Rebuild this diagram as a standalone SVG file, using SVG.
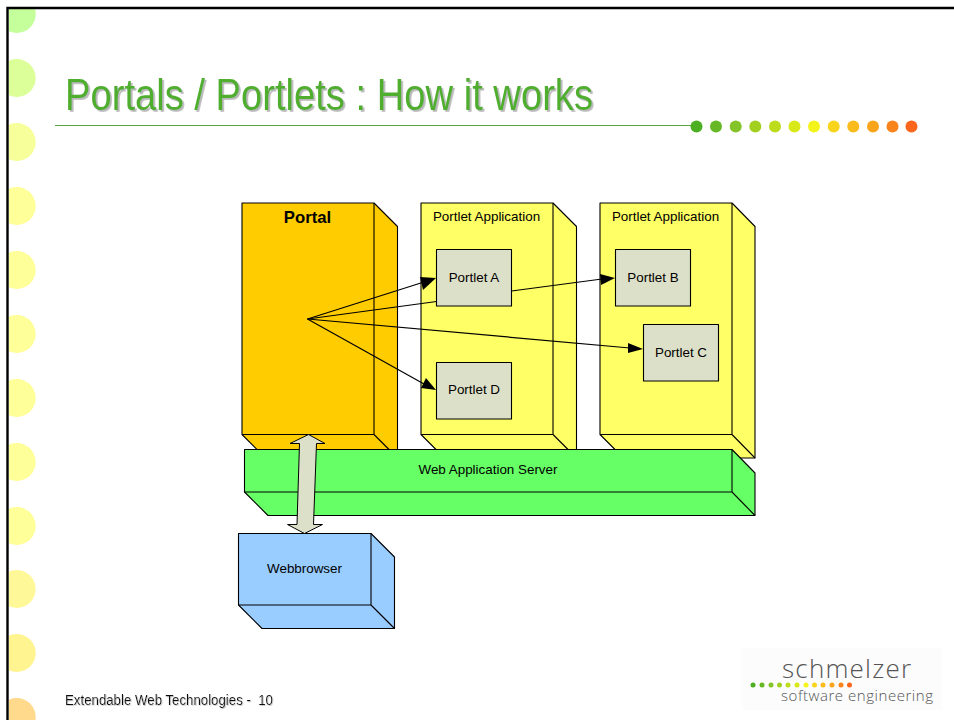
<svg xmlns="http://www.w3.org/2000/svg" width="954" height="720" viewBox="0 0 954 720">
<style>
text{font-family:"Liberation Sans",Arial,sans-serif;fill:#000}
.l{font-size:13.400px;text-anchor:middle}
.b{stroke:#000;stroke-width:1.1;stroke-linejoin:round}
.y{fill:#ffff66}.o{fill:#ffcc00}.g{fill:#66ff66}.w{fill:#99ccff}.p{fill:#dde0c8}
.c{stroke:#000;stroke-width:1.2;fill:none}
.h{fill:#000}
</style>
<defs>
<clipPath id="fr"><rect x="9" y="9" width="945" height="711"/></clipPath>
<filter id="sh" x="-5%" y="-20%" width="110%" height="140%"><feDropShadow dx="1.800" dy="1.800" stdDeviation="0.500" flood-color="#b8b8b8"/></filter>
<filter id="sf" x="-5%" y="-20%" width="110%" height="140%"><feDropShadow dx="0.800" dy="0.800" stdDeviation="0.400" flood-color="#c4c4c4"/></filter>
</defs>
<rect width="954" height="720" fill="#fff"/>
<g id="bullets" clip-path="url(#fr)">
<circle cx="16.700" cy="14" r="19" fill="#c4ff9c"/>
<circle cx="16.700" cy="78" r="19" fill="#dcff99"/>
<circle cx="16.700" cy="142" r="19" fill="#f6ff99"/>
<circle cx="16.700" cy="206" r="19" fill="#ffff99"/>
<circle cx="16.700" cy="270" r="19" fill="#ffff99"/>
<circle cx="16.700" cy="334" r="19" fill="#ffff99"/>
<circle cx="16.700" cy="398" r="19" fill="#ffff99"/>
<circle cx="16.700" cy="462" r="19" fill="#ffff99"/>
<circle cx="16.700" cy="526" r="19" fill="#ffff99"/>
<circle cx="16.700" cy="589" r="19" fill="#fff899"/>
<circle cx="16.700" cy="653" r="19" fill="#fff48f"/>
<circle cx="16.700" cy="717" r="19" fill="#ffd98c"/>
</g>
<path id="frame" d="M7.500 720V8H954" fill="none" stroke="#000" stroke-width="2.400"/>
<g id="title">
<text x="65" y="110" font-size="44" style="fill:#4fae2e" textLength="528" lengthAdjust="spacingAndGlyphs" filter="url(#sh)">Portals / Portlets : How it works</text>
</g>
<line x1="55" y1="125.500" x2="692" y2="125.500" stroke="#5aa83c" stroke-width="1"/>
<g id="dots">
<circle cx="696.500" cy="126.500" r="6" fill="#4caf22"/>
<circle cx="716" cy="126.500" r="6" fill="#66b824"/>
<circle cx="735.700" cy="126.500" r="6" fill="#84c428"/>
<circle cx="755.300" cy="126.500" r="6" fill="#a2d020"/>
<circle cx="775" cy="126.500" r="6" fill="#bcdc1c"/>
<circle cx="794.500" cy="126.500" r="6" fill="#d8e818"/>
<circle cx="814" cy="126.500" r="6" fill="#f4f41c"/>
<circle cx="833.700" cy="126.500" r="6" fill="#f8d41c"/>
<circle cx="853.300" cy="126.500" r="6" fill="#fabc1c"/>
<circle cx="873" cy="126.500" r="6" fill="#faa41c"/>
<circle cx="892.500" cy="126.500" r="6" fill="#fa841c"/>
<circle cx="911.500" cy="126.500" r="6" fill="#fb661c"/>
</g>

<g id="portal">
<path class="b o" d="M242 203H374L397.500 226.500V458H265.500L242 434.500Z"/>
<path class="b" fill="none" d="M374 203V434.500M242 434.500H374L397.500 458"/>
<text x="307.500" y="223" font-size="16.700" font-weight="bold" text-anchor="middle">Portal</text>
</g>
<g id="app1">
<path class="b y" d="M421 203H553L576.500 226.500V458H444.500L421 434.500Z"/>
<path class="b" fill="none" d="M553 203V434.500M421 434.500H553L576.500 458"/>
<text x="486.500" y="220.500" class="l">Portlet Application</text>
</g>
<g id="app2">
<path class="b y" d="M600 203H732L755 226.500V458H623.500L600 434.500Z"/>
<path class="b" fill="none" d="M732 203V434.500M600 434.500H732L755 458"/>
<text x="665.500" y="220.500" class="l">Portlet Application</text>
</g>
<g id="was">
<path class="b g" d="M244.500 449.500H732L755 473V515.500H268L244.500 492Z"/>
<path class="b" fill="none" d="M732 449.500V492M244.500 492H732L755 515.500"/>
<text x="488" y="473.500" class="l">Web Application Server</text>
</g>
<g id="webbrowser">
<path class="b w" d="M238.500 533.500H371L394.500 557V628.500H262L238.500 605Z"/>
<path class="b" fill="none" d="M371 533.500V605M238.500 605H371L394.500 628.500"/>
<text x="304.500" y="572.500" class="l">Webbrowser</text>
</g>
<g id="portletA"><rect class="b p" x="436.500" y="249.500" width="75" height="56.500"/><text x="474" y="281.500" class="l">Portlet A</text></g>
<g id="portletB"><rect class="b p" x="615.500" y="249.500" width="75" height="56.500"/><text x="653" y="281.500" class="l">Portlet B</text></g>
<g id="portletC"><rect class="b p" x="643.500" y="324.500" width="75" height="56.500"/><text x="681" y="356.500" class="l">Portlet C</text></g>
<g id="portletD"><rect class="b p" x="436.500" y="362.500" width="75" height="56.500"/><text x="474" y="393.500" class="l">Portlet D</text></g>

<g id="connectors">
<path class="c" d="M307.500 319L424 282"/>
<polygon class="h" points="436,278 423,290 420,277"/>
<path class="c" d="M307.500 319L436.500 301.500M511.500 291L602 279"/>
<polygon class="h" points="615,278 601,285 600,274"/>
<path class="c" d="M307.500 319L630 348"/>
<polygon class="h" points="643,349 628,353 628,343"/>
<path class="c" d="M307.500 319L424 384"/>
<polygon class="h" points="436,390 421,388 426,378"/>
<path class="p" stroke="#000" stroke-width="1" stroke-linejoin="round" d="M308.500 434.500L325 443.500H316.500L313.500 524.500H322.500L304.500 533.500L287.500 524.500H297L299.500 443.500H290Z"/>
</g>

<g id="footer">
<text x="65" y="705" font-size="15.500" textLength="208" lengthAdjust="spacingAndGlyphs" filter="url(#sf)" style="fill:#111;white-space:pre">Extendable Web Technologies -  10</text>
</g>
<g id="logo">
<rect x="742" y="648" width="200" height="62" fill="#fcfcfc"/>
<text x="782" y="678" font-size="26" font-weight="300" textLength="129" lengthAdjust="spacing" style="fill:#555;font-family:'Open Sans',sans-serif">schmelzer</text>
<text x="781" y="701" font-size="15" font-weight="300" textLength="152" lengthAdjust="spacing" style="fill:#555;font-family:'Open Sans',sans-serif">software engineering</text>
<circle cx="753" cy="685" r="2.500" fill="#4caf22"/>
<circle cx="762" cy="685" r="2.500" fill="#66b824"/>
<circle cx="771" cy="685" r="2.500" fill="#84c428"/>
<circle cx="779.500" cy="685" r="2.500" fill="#a2d020"/>
<circle cx="788" cy="685" r="2.500" fill="#bcdc1c"/>
<circle cx="797" cy="685" r="2.500" fill="#d8e818"/>
<circle cx="806" cy="685" r="2.500" fill="#f4f41c"/>
<circle cx="814.500" cy="685" r="2.500" fill="#f8d41c"/>
<circle cx="823" cy="685" r="2.500" fill="#fabc1c"/>
<circle cx="832" cy="685" r="2.500" fill="#faa41c"/>
<circle cx="841" cy="685" r="2.500" fill="#fa841c"/>
<circle cx="849.500" cy="685" r="2.500" fill="#fb661c"/>
</g>
</svg>
